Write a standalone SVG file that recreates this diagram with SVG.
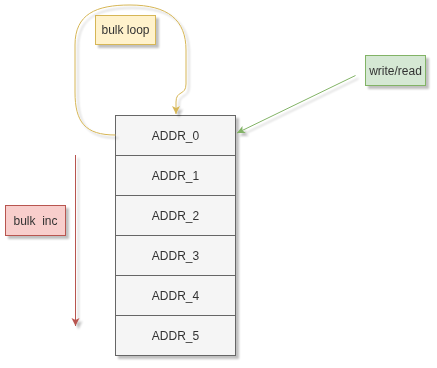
<svg xmlns="http://www.w3.org/2000/svg" width="437" height="368" viewBox="0 0 437 368">
<style>
text{font-family:"Liberation Sans",Arial,sans-serif;font-size:12px;fill:#333333;text-anchor:middle;dominant-baseline:central;white-space:pre}
.cell{fill:#f5f5f5;stroke:#666666;stroke-width:1}
.y{fill:#fff2cc;stroke:#d6b656}
.g{fill:#d5e8d4;stroke:#82b366}
.r{fill:#f8cecc;stroke:#b85450}
.c{fill:none;stroke-width:1}
</style>
<defs>
<filter id="sh" x="-20%" y="-20%" width="150%" height="150%">
<feGaussianBlur in="SourceAlpha" stdDeviation="1.2"/>
<feOffset dx="3" dy="3" result="o"/>
<feComponentTransfer><feFuncA type="linear" slope="0.25"/></feComponentTransfer>
<feMerge><feMergeNode/><feMergeNode in="SourceGraphic"/></feMerge>
</filter>
<marker id="ay" markerWidth="10" markerHeight="10" refX="8" refY="5" orient="auto" markerUnits="userSpaceOnUse"><path d="M0,1 L8,5 L0,9 L2,5 Z" fill="#d6b656"/></marker>
<marker id="ag" markerWidth="10" markerHeight="10" refX="8" refY="5" orient="auto" markerUnits="userSpaceOnUse"><path d="M0,1 L8,5 L0,9 L2,5 Z" fill="#82b366"/></marker>
<marker id="ar" markerWidth="10" markerHeight="10" refX="8" refY="5" orient="auto" markerUnits="userSpaceOnUse"><path d="M0,1 L8,5 L0,9 L2,5 Z" fill="#b85450"/></marker>
</defs>
<g id="memory" filter="url(#sh)">
<g id="addr0"><rect class="cell" x="115.5" y="115.5" width="120" height="40"/><text x="175.5" y="135.5">ADDR_0</text></g>
<g id="addr1"><rect class="cell" x="115.5" y="155.5" width="120" height="40"/><text x="175.5" y="175.5">ADDR_1</text></g>
<g id="addr2"><rect class="cell" x="115.5" y="195.5" width="120" height="40"/><text x="175.5" y="215.5">ADDR_2</text></g>
<g id="addr3"><rect class="cell" x="115.5" y="235.5" width="120" height="40"/><text x="175.5" y="255.5">ADDR_3</text></g>
<g id="addr4"><rect class="cell" x="115.5" y="275.5" width="120" height="40"/><text x="175.5" y="295.5">ADDR_4</text></g>
<g id="addr5"><rect class="cell" x="115.5" y="315.5" width="120" height="40"/><text x="175.5" y="335.5">ADDR_5</text></g>
</g>
<g id="connectors" filter="url(#sh)">
<path class="c" stroke="#d6b656" d="M115.5,135 C85,135 75,122 75,92 L75,45 C75,14 96,5 130,5 C168,5 186,20 186,50 L186,84 C186,96 176,90 176,102 L176,114" marker-end="url(#ay)"/>
<path class="c" stroke="#82b366" d="M355.5,75.5 L237,133" marker-end="url(#ag)"/>
<path class="c" stroke="#b85450" d="M75.5,155 L75.5,326" marker-end="url(#ar)"/>
</g>
<g id="bulkloop" filter="url(#sh)"><rect class="y" x="95.5" y="15.5" width="60" height="29"/><text x="125.5" y="30">bulk loop</text></g>
<g id="writeread" filter="url(#sh)"><rect class="g" x="365.5" y="55.5" width="60" height="30"/><text x="395.5" y="70.5">write/read</text></g>
<g id="bulkinc" filter="url(#sh)"><rect class="r" x="5.5" y="205.5" width="60" height="30"/><text x="35.5" y="220.5">bulk  inc</text></g>
</svg>
